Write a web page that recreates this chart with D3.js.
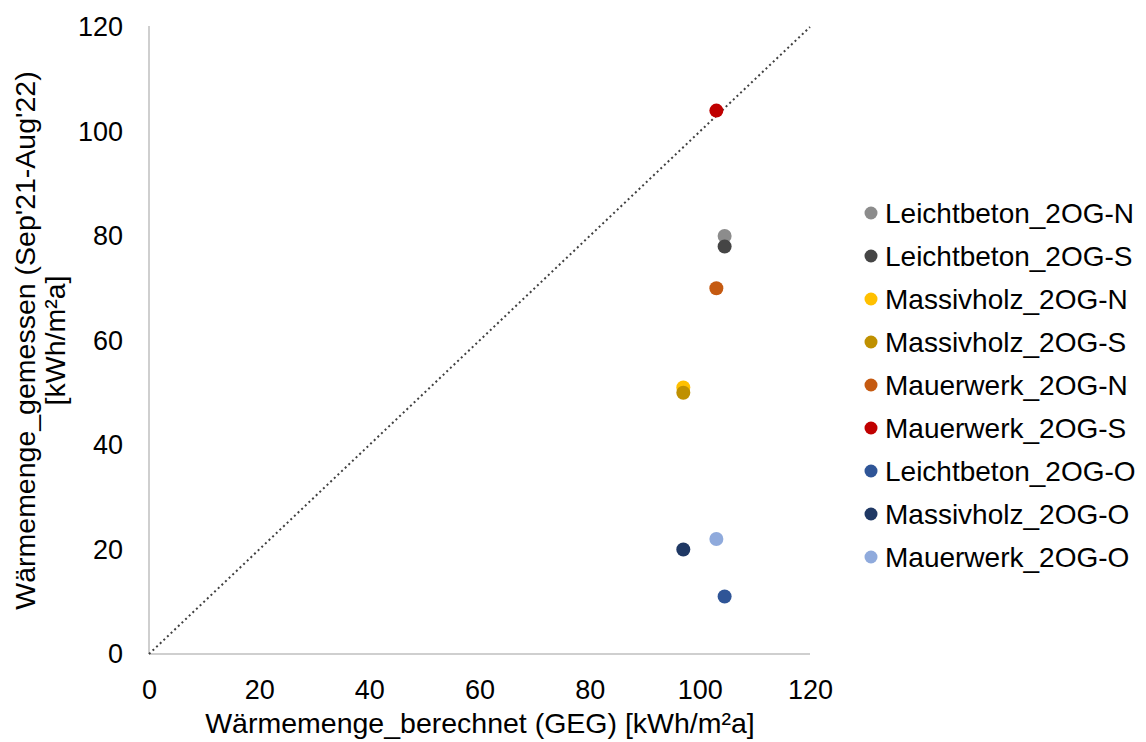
<!DOCTYPE html>
<html><head><meta charset="utf-8">
<script src="https://cdn.jsdelivr.net/npm/d3@7"></script>
<style>body{margin:0;background:#fff}text{font-family:"Liberation Sans",Arial,sans-serif}</style>
</head><body>
<svg id="c" width="1146" height="742"></svg>
<script>
const seriesNames = ["Leichtbeton_2OG-N","Leichtbeton_2OG-S","Massivholz_2OG-N","Massivholz_2OG-S","Mauerwerk_2OG-N","Mauerwerk_2OG-S","Leichtbeton_2OG-O","Massivholz_2OG-O","Mauerwerk_2OG-O"];
const xValues = [104.5, 104.5, 97, 97, 103, 103, 104.5, 97, 103];
const yValues = [80, 78, 51, 50, 70, 104, 11, 20, 22];
const colors = ["#8c8c8c","#454545","#ffc000","#bf9000","#c55a11","#c00000","#2f5597","#1f3864","#8faadc"];
const ticks = [0,20,40,60,80,100,120];

const svg = d3.select("#c");
const L=149, R=810, T=27, B=654;
const FF = "Liberation Sans, Arial, sans-serif";
const x = d3.scaleLinear().domain([0,120]).range([L,R]);
const y = d3.scaleLinear().domain([0,120]).range([B,T]);

// axes lines
svg.append("line").attr("x1",L).attr("x2",L).attr("y1",T-1).attr("y2",B).attr("stroke","#bfbfbf").attr("stroke-width",1.5);
svg.append("line").attr("x1",L).attr("x2",R).attr("y1",B).attr("y2",B).attr("stroke","#bfbfbf").attr("stroke-width",1.5);

const xa = svg.append("g").attr("transform",`translate(0,${B})`)
  .attr("font-size",27).attr("font-family",FF)
  .call(d3.axisBottom(x).tickValues(ticks).tickSize(0).tickPadding(26));
xa.select(".domain").remove();
xa.selectAll("text").attr("font-size",27).attr("fill","#000");
const ya = svg.append("g").attr("transform",`translate(${L},0)`)
  .attr("font-size",27).attr("font-family",FF)
  .call(d3.axisLeft(y).tickValues(ticks).tickSize(0).tickPadding(26));
ya.select(".domain").remove();
ya.selectAll("text").attr("font-size",27).attr("fill","#000");

// diagonal
svg.append("line").attr("x1",x(0)).attr("y1",y(0)).attr("x2",x(120)).attr("y2",y(120))
  .attr("stroke","#404040").attr("stroke-width",2).attr("stroke-dasharray","2,3");

// points
svg.selectAll("circle.pt").data(seriesNames).enter().append("circle").attr("class","pt")
  .attr("cx",(d,i)=>x(xValues[i])).attr("cy",(d,i)=>y(yValues[i])).attr("r",7)
  .attr("fill",(d,i)=>colors[i]);

// axis titles
svg.append("text").attr("x",480).attr("y",733).attr("text-anchor","middle").attr("font-size",28.5).text("Wärmemenge_berechnet (GEG) [kWh/m²a]");
const yt = svg.append("text").attr("transform",`translate(35,${(T+B)/2}) rotate(-90)`).attr("text-anchor","middle").attr("font-size",28.5);
yt.append("tspan").attr("x",0).attr("dy",0).text("Wärmemenge_gemessen (Sep'21-Aug'22)");
yt.append("tspan").attr("x",0).attr("dy",30).text("[kWh/m²a]");

// legend
const lg = svg.append("g");
seriesNames.forEach((n,i)=>{
  const yy = 213 + i*43;
  lg.append("circle").attr("cx",871).attr("cy",yy).attr("r",6.5).attr("fill",colors[i]);
  lg.append("text").attr("x",885).attr("y",yy+10).attr("font-size",28).text(n);
});
</script>
</body></html>
